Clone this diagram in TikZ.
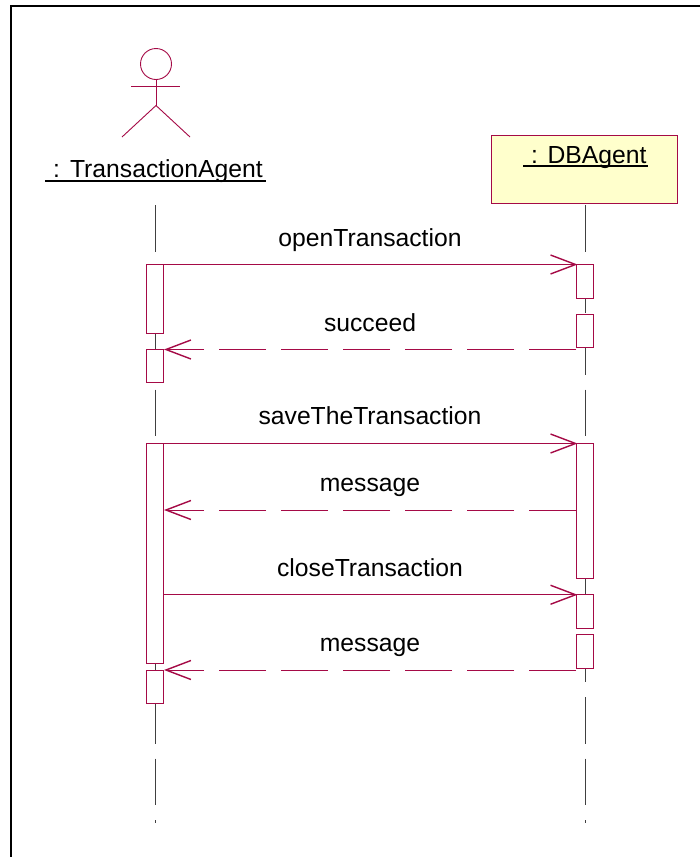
\documentclass[tikz,border=0pt]{standalone}
\usepackage{fontspec}
\setmainfont{Liberation Sans}
\usetikzlibrary{arrows.meta}
\definecolor{umlred}{HTML}{A50A46}
\definecolor{umlyellow}{HTML}{FFFFCC}
\definecolor{lifegray}{HTML}{404040}
\tikzset{
  x=1pt,y=-1pt,
  lifeline/.style={draw=lifegray,line width=0.9pt,dash pattern=on 46.5pt off 15pt},
  activation/.style={draw=umlred,fill=white,line width=0.9pt,minimum width=17pt,inner sep=0pt,outer sep=0pt},
  objbox/.style={draw=umlred,fill=umlyellow,line width=0.9pt,inner sep=0pt,outer sep=0pt,minimum width=185.5pt,minimum height=68pt},
  call/.style={draw=umlred,line width=0.9pt,shorten >=-1.5pt,-{Straight Barb[length=25pt,width=19pt,line width=1.4pt]}},
  reply/.style={call,dash pattern=on 47pt off 15pt},
  actorline/.style={draw=umlred,line width=0.9pt},
  msg/.style={font=\fontsize{24.7}{28}\selectfont,anchor=base,inner sep=0pt,text=black},
  objname/.style={msg},
  under/.style={draw=black,line width=1.1pt}
}
\begin{document}
\begin{tikzpicture}
\useasboundingbox (0,0) rectangle (700,857);
\fill[white] (0,0) rectangle (700,857);
% frame
\draw[black,line width=2pt] (11,857) -- (11,6) -- (700,6);
% lifeline ends
\coordinate (ltop) at (155.5,205);
\coordinate (lbot) at (155.5,823);
\coordinate (rtop) at (585,205);
\coordinate (rbot) at (585,823);
\draw[lifeline] (ltop) -- (lbot);
\draw[lifeline] (rtop) -- (rbot);
% actor
\node[actorline,circle,minimum size=31pt,inner sep=0pt,outer sep=0pt] (head) at (156,64) {};
\coordinate (armL) at (131,86);
\coordinate (armR) at (180,86);
\coordinate (hip) at (156,105.5);
\coordinate (footL) at (122,137);
\coordinate (footR) at (190,137);
\draw[actorline] (head.south) -- (hip);
\draw[actorline] (armL) -- (armR);
\draw[actorline] (footL) -- (hip) -- (footR);
\node[objname,anchor=base west] (tname) at (53,177) {:\hspace{10pt}TransactionAgent};
\draw[under] (45,181) -- (266,181);
% DB object
\node[objbox] (db) at (584.25,169) {};
\node[objname,anchor=base west] (dname) at (531,163) {:\hspace{9.5pt}DBAgent};
\draw[under] (523,166) -- (648,166);
% activations, left
\node[activation,minimum height=68.5pt] (a1) at (154.5,298.75) {};
\node[activation,minimum height=33pt] (a2) at (154.5,366) {};
\node[activation,minimum height=220pt] (a3) at (154.5,553.5) {};
\node[activation,minimum height=33.5pt] (a4) at (154.5,686.75) {};
% activations, right
\node[activation,minimum height=33.5pt] (b1) at (584.5,281.25) {};
\node[activation,minimum height=33.5pt] (b2) at (584.5,330.75) {};
\node[activation,minimum height=135pt] (b3) at (584.5,511) {};
\node[activation,minimum height=33.5pt] (b4) at (584.5,611.5) {};
\node[activation,minimum height=33.5pt] (b5) at (584.5,651.25) {};
% messages
\draw[call] ([xshift=1pt]a1.north east) -- (b1.north west);
\draw[reply] (b2.west |- a2.north) -- ([xshift=2.5pt]a2.north east);
\draw[call] ([xshift=1pt]a3.north east) -- (b3.north west);
\draw[reply] (b3.west |- 0,510) -- ([xshift=2.5pt]a3.east |- 0,510);
\draw[call] ([xshift=1pt]a3.east |- b4.north) -- (b4.north west);
\draw[reply] (b5.west |- a4.north) -- ([xshift=2.5pt]a4.north east);
% labels
\node[msg] (m1) at (370,246) {openTransaction};
\node[msg] (m2) at (370,331) {succeed};
\node[msg] (m3) at (370,424) {saveTheTransaction};
\node[msg] (m4) at (370,491) {message};
\node[msg] (m5) at (370,576) {closeTransaction};
\node[msg] (m6) at (370,651) {message};
\end{tikzpicture}
\end{document}
